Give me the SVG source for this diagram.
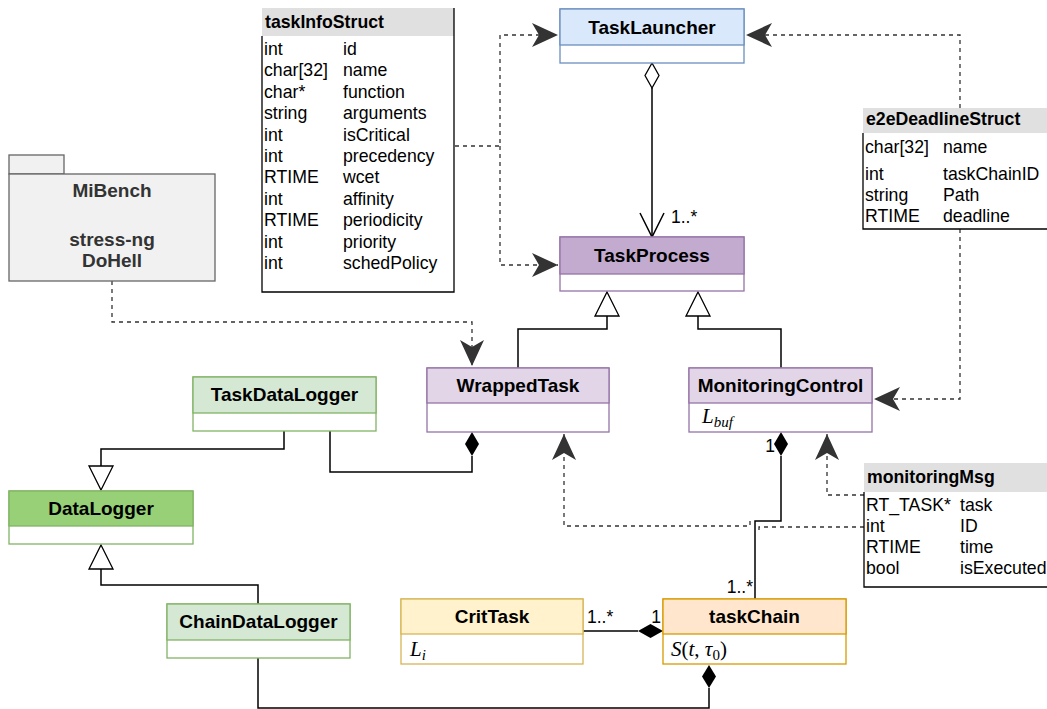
<svg xmlns="http://www.w3.org/2000/svg" width="1047" height="709" viewBox="0 0 1047 709">
<style>
text{font-family:"Liberation Sans",Arial,sans-serif;fill:#000}
.cn{font-size:19px;font-weight:bold;text-anchor:middle}
.tb{font-size:17.7px}
.th{font-size:17.7px;font-weight:bold}
.lb{font-size:17.5px}
.m{font-family:"Liberation Serif","Times New Roman",serif;font-size:21px;font-style:italic}
.sub{font-size:15px}
.sol{fill:none;stroke:#000;stroke-width:1.5}
.das{fill:none;stroke:#333;stroke-width:1.3;stroke-dasharray:4 4}
.box{stroke-width:1.3}
</style>
<defs>
<marker id="arr" markerUnits="userSpaceOnUse" viewBox="0 0 26 24" refX="26" refY="12" markerWidth="26" markerHeight="24" orient="auto">
<path d="M0,0 L26,12 L0,24 L7,12 Z" fill="#333"/>
</marker>
</defs>

<!-- connectors -->
<g id="connectors">
  <path class="das" d="M455,146 H500 V35 H558" marker-end="url(#arr)"/>
  <path class="das" d="M500,146 V265 H558" marker-end="url(#arr)"/>
  <path class="das" d="M960,108 V35 H746" marker-end="url(#arr)"/>
  <path class="das" d="M960,229 V399 H874" marker-end="url(#arr)"/>
  <path class="das" d="M112,281 V322 H472 V366" marker-end="url(#arr)"/>
  <path class="das" d="M864,495 H827 V434" marker-end="url(#arr)"/>
  <path class="das" d="M864,527 H759 V531"/>
  <path class="das" d="M750,521 V526 H564 V434" marker-end="url(#arr)"/>
  <path class="sol" d="M652,88 V237"/>
  <path d="M652,63 L659,75.5 L652,88 L645,75.5 Z" fill="#fff" stroke="#000" stroke-width="1.3"/>
  <path class="sol" d="M640,213 L652,237 L664,213"/>
  <path class="sol" d="M518,368 V329 H607 V316"/>
  <path d="M607,292 L619,316 L595,316 Z" fill="#fff" stroke="#000" stroke-width="1.3"/>
  <path class="sol" d="M781,368 V329 H698 V316"/>
  <path d="M698,292 L710,316 L686,316 Z" fill="#fff" stroke="#000" stroke-width="1.3"/>
  <path class="sol" d="M472,456 V472 H330 V431"/>
  <path d="M472,432 L479,444 L472,456 L465,444 Z" fill="#000"/>
  <path class="sol" d="M781,456 V521 H755 V599"/>
  <path d="M781,432 L788,444 L781,456 L774,444 Z" fill="#000"/>
  <path class="sol" d="M284,431 V449 H101 V466"/>
  <path d="M101,490 L113,466 L89,466 Z" fill="#fff" stroke="#000" stroke-width="1.3"/>
  <path class="sol" d="M258,604 V585 H101 V569"/>
  <path d="M101,545 L113,569 L89,569 Z" fill="#fff" stroke="#000" stroke-width="1.3"/>
  <path class="sol" d="M583,631 H638"/>
  <path d="M663,631 L650.5,638 L638,631 L650.5,624 Z" fill="#000"/>
  <path class="sol" d="M258,658 V708 H709 V688"/>
  <path d="M709,665 L716,676.5 L709,688 L702,676.5 Z" fill="#000"/>
  <text class="lb" x="671" y="223">1..*</text>
  <text class="lb" x="775" y="452" text-anchor="end">1</text>
  <text class="lb" x="753" y="593" text-anchor="end">1..*</text>
  <text class="lb" x="587" y="623">1..*</text>
  <text class="lb" x="661" y="623" text-anchor="end">1</text>
</g>

<g id="taskInfoStruct">
  <rect x="262" y="8" width="192" height="28" fill="#e0e0e0"/>
  <path d="M262,36 V292 H454 V8" fill="none" stroke="#000" stroke-width="1.3"/>
  <text class="th" x="265" y="28">taskInfoStruct</text>
  <text class="tb" x="264" y="55">int</text><text class="tb" x="343" y="55">id</text>
  <text class="tb" x="264" y="76.4">char[32]</text><text class="tb" x="343" y="76.4">name</text>
  <text class="tb" x="264" y="97.8">char*</text><text class="tb" x="343" y="97.8">function</text>
  <text class="tb" x="264" y="119.2">string</text><text class="tb" x="343" y="119.2">arguments</text>
  <text class="tb" x="264" y="140.6">int</text><text class="tb" x="343" y="140.6">isCritical</text>
  <text class="tb" x="264" y="162">int</text><text class="tb" x="343" y="162">precedency</text>
  <text class="tb" x="264" y="183.4">RTIME</text><text class="tb" x="343" y="183.4">wcet</text>
  <text class="tb" x="264" y="204.8">int</text><text class="tb" x="343" y="204.8">affinity</text>
  <text class="tb" x="264" y="226.2">RTIME</text><text class="tb" x="343" y="226.2">periodicity</text>
  <text class="tb" x="264" y="247.6">int</text><text class="tb" x="343" y="247.6">priority</text>
  <text class="tb" x="264" y="269">int</text><text class="tb" x="343" y="269">schedPolicy</text>
</g>

<g id="e2eDeadlineStruct">
  <rect x="863" y="108" width="190" height="25" fill="#e0e0e0"/>
  <path d="M863,133 V229 H1050" fill="none" stroke="#000" stroke-width="1.3"/>
  <text class="th" x="866" y="125">e2eDeadlineStruct</text>
  <text class="tb" x="865" y="153">char[32]</text><text class="tb" x="943" y="153">name</text>
  <text class="tb" x="865" y="180">int</text><text class="tb" x="943" y="180">taskChainID</text>
  <text class="tb" x="865" y="201">string</text><text class="tb" x="943" y="201">Path</text>
  <text class="tb" x="865" y="222">RTIME</text><text class="tb" x="943" y="222">deadline</text>
</g>

<g id="monitoringMsg">
  <rect x="864" y="463" width="190" height="29" fill="#e0e0e0"/>
  <path d="M864,492 V587 H1050" fill="none" stroke="#000" stroke-width="1.3"/>
  <text class="th" x="867" y="483">monitoringMsg</text>
  <text class="tb" x="866" y="511">RT_TASK*</text><text class="tb" x="960" y="511">task</text>
  <text class="tb" x="866" y="532">int</text><text class="tb" x="960" y="532">ID</text>
  <text class="tb" x="866" y="553">RTIME</text><text class="tb" x="960" y="553">time</text>
  <text class="tb" x="866" y="574">bool</text><text class="tb" x="960" y="574">isExecuted</text>
</g>

<g id="MiBench">
  <rect x="9" y="155" width="55" height="19" fill="#f1f1f1" stroke="#666" stroke-width="1.3"/>
  <rect x="9" y="174" width="206" height="107" fill="#f1f1f1" stroke="#666" stroke-width="1.3"/>
  <text class="cn" x="112" y="197" style="fill:#333">MiBench</text>
  <text class="cn" x="112" y="246" style="fill:#333">stress-ng</text>
  <text class="cn" x="112" y="267" style="fill:#333">DoHell</text>
</g>

<g id="TaskLauncher">
  <rect class="box" x="560" y="9" width="184" height="54" fill="#fff" stroke="#6c8ebf"/>
  <rect class="box" x="560" y="9" width="184" height="36" fill="#dae8fc" stroke="#6c8ebf"/>
  <text class="cn" x="652" y="34">TaskLauncher</text>
</g>

<g id="TaskProcess">
  <rect class="box" x="560" y="237" width="184" height="54" fill="#fff" stroke="#9673a6"/>
  <rect class="box" x="560" y="237" width="184" height="37" fill="#c3abd0" stroke="#9673a6"/>
  <text class="cn" x="652" y="262">TaskProcess</text>
</g>

<g id="WrappedTask">
  <rect class="box" x="427" y="368" width="182" height="64" fill="#fff" stroke="#9673a6"/>
  <rect class="box" x="427" y="368" width="182" height="35" fill="#e1d5e7" stroke="#9673a6"/>
  <text class="cn" x="518" y="392">WrappedTask</text>
</g>

<g id="MonitoringControl">
  <rect class="box" x="689" y="368" width="183" height="64" fill="#fff" stroke="#9673a6"/>
  <rect class="box" x="689" y="368" width="183" height="35" fill="#e1d5e7" stroke="#9673a6"/>
  <text class="cn" x="780.5" y="392">MonitoringControl</text>
  <text class="m" x="702" y="423">L<tspan class="sub" dy="4">buf</tspan></text>
</g>

<g id="TaskDataLogger">
  <rect class="box" x="193" y="377" width="183" height="54" fill="#fff" stroke="#82b366"/>
  <rect class="box" x="193" y="377" width="183" height="36" fill="#d5e8d4" stroke="#82b366"/>
  <text class="cn" x="284.5" y="401">TaskDataLogger</text>
</g>

<g id="DataLogger">
  <rect class="box" x="9" y="491" width="184" height="53" fill="#fff" stroke="#82b366"/>
  <rect class="box" x="9" y="491" width="184" height="35" fill="#97d077" stroke="#82b366"/>
  <text class="cn" x="101" y="515">DataLogger</text>
</g>

<g id="ChainDataLogger">
  <rect class="box" x="167" y="604" width="183" height="54" fill="#fff" stroke="#82b366"/>
  <rect class="box" x="167" y="604" width="183" height="36" fill="#d5e8d4" stroke="#82b366"/>
  <text class="cn" x="258.5" y="628">ChainDataLogger</text>
</g>

<g id="CritTask">
  <rect class="box" x="401" y="599" width="182" height="65" fill="#fff" stroke="#d6b656"/>
  <rect class="box" x="401" y="599" width="182" height="35" fill="#fff2cc" stroke="#d6b656"/>
  <text class="cn" x="492" y="623">CritTask</text>
  <text class="m" x="410" y="656">L<tspan class="sub" dy="4">i</tspan></text>
</g>

<g id="taskChain">
  <rect class="box" x="663" y="599" width="183" height="65" fill="#fff" stroke="#d79b00"/>
  <rect class="box" x="663" y="599" width="183" height="35" fill="#ffe6cc" stroke="#d79b00"/>
  <text class="cn" x="754.5" y="623">taskChain</text>
  <text class="m" x="671" y="656">S<tspan font-style="normal">(</tspan>t<tspan font-style="normal">, </tspan>τ<tspan class="sub" font-style="normal" dy="4">0</tspan><tspan font-style="normal" dy="-4">)</tspan></text>
</g>
</svg>
